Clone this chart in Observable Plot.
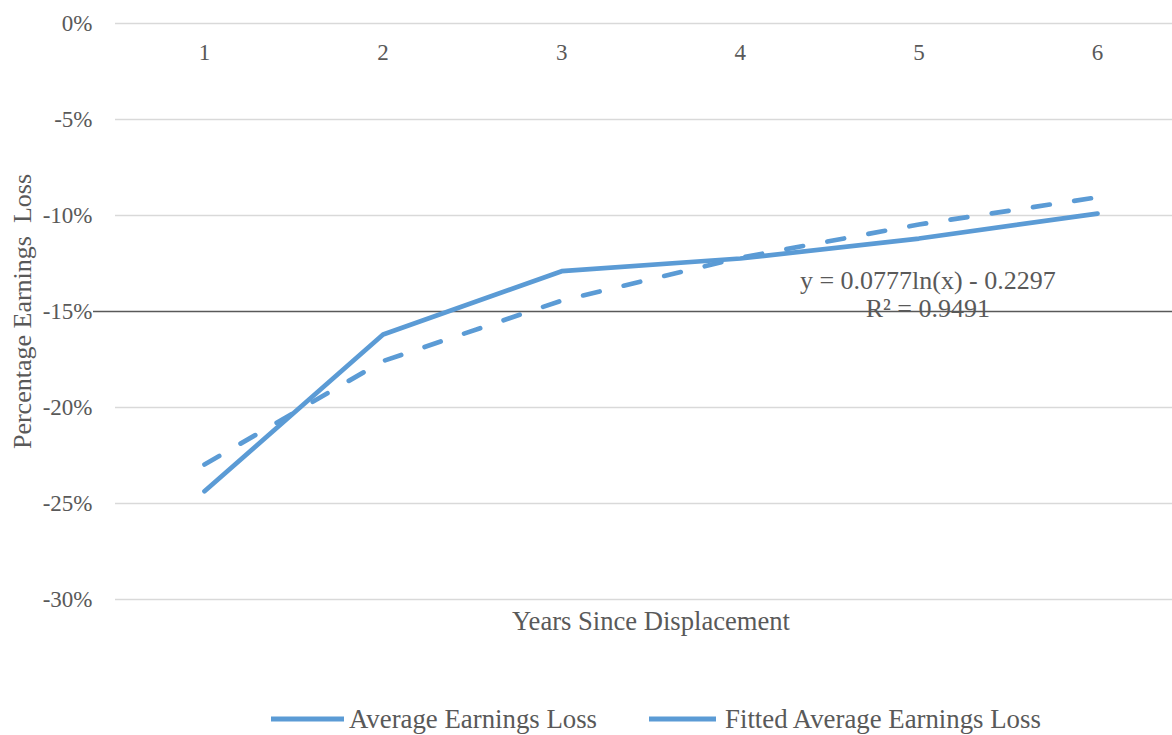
<!DOCTYPE html>
<html>
<head>
<meta charset="utf-8">
<script src="https://cdn.jsdelivr.net/npm/d3@7"></script>
<script src="https://cdn.jsdelivr.net/npm/@observablehq/plot@0.6"></script>
<style>
  body { margin: 0; background: #fff; font-family: "Liberation Serif", "Times New Roman", serif; color: #595959; overflow: hidden; }
  #legend { display: flex; align-items: center; height: 38px; padding-left: 271px; font-size: 26.8px; white-space: nowrap; }
  #legend .item { display: flex; align-items: center; }
  #legend svg { display: block; }
</style>
</head>
<body>
<div id="chart"></div>
<div id="legend"></div>
<script>
// ---- data ----
const years = [1, 2, 3, 4, 5, 6];
const averageLoss = [-0.2436, -0.162, -0.129, -0.1224, -0.112, -0.099];
const fittedLoss = [-0.2297, -0.1758, -0.1443, -0.1220, -0.1047, -0.0905];
const yTicks = [0, -0.05, -0.10, -0.15, -0.20, -0.25, -0.30];
const seriesNames = ["Average Earnings Loss", "Fitted Average Earnings Loss"];
const trendLabel = "y = 0.0777ln(x) - 0.2297\nR\u00b2 = 0.9491";
const trendLabelAt = { x: 5.05, y: -0.141 };
const xTitle = "Years Since Displacement";
const yTitle = "Percentage Earnings  Loss";
const axisCross = -0.15;
const lineColor = "#5B9BD5";

const avgData = years.map((x, i) => ({ x, y: averageLoss[i] }));
const fitData = years.map((x, i) => ({ x, y: fittedLoss[i] }));

const chart = Plot.plot({
  width: 1172,
  height: 700,
  marginLeft: 115,
  marginRight: 0,
  marginTop: 23,
  marginBottom: 101,
  style: { fontFamily: '"Liberation Serif", "Times New Roman", serif', color: "#595959", background: "#fff", overflow: "visible" },
  x: { domain: [0.5, 6.5], range: [114.7, 1186.3], axis: null },
  y: { domain: [-0.30, 0], axis: null },
  marks: [
    Plot.ruleY(yTicks.filter(v => v !== axisCross), { stroke: "#d9d9d9", strokeWidth: 1.5 }),
    Plot.ruleY([axisCross], { stroke: "#595959", strokeWidth: 1.5, insetLeft: -22 }),
    Plot.axisY(yTicks, { tickSize: 0, tickPadding: 23, tickFormat: d => `${Math.round(d * 100)}%`, fontSize: 23, label: null }),
    Plot.text(years, { x: d => d, text: d => String(d), frameAnchor: "top", lineAnchor: "middle", dy: 29, fontSize: 23 }),
    Plot.line(fitData, { x: "x", y: "y", stroke: lineColor, strokeWidth: 4.7, strokeDasharray: "17,24.7", strokeLinecap: "round", strokeLinejoin: "round" }),
    Plot.line(avgData, { x: "x", y: "y", stroke: lineColor, strokeWidth: 4.7, strokeLinecap: "round", strokeLinejoin: "round" }),
    Plot.text([trendLabelAt], { x: "x", y: "y", text: () => trendLabel, fontSize: 26, lineHeight: 1.05 }),
    Plot.text([yTitle], { frameAnchor: "left", textAnchor: "middle", rotate: -90, dx: -93, fontSize: 26 }),
    Plot.text([xTitle], { frameAnchor: "bottom", lineAnchor: "middle", dy: 22, dx: 7, fontSize: 26.6 })
  ]
});
document.getElementById("chart").appendChild(chart);

// ---- legend ----
const legend = d3.select("#legend");
const sampleWidths = [73, 67];
const textGaps = [5, 9];
seriesNames.forEach((name, i) => {
  const item = legend.append("div").attr("class", "item").style("margin-left", i === 0 ? "0px" : "52px");
  const s = item.append("svg").attr("width", sampleWidths[i]).attr("height", 10);
  s.append("line").attr("x1", 0).attr("x2", sampleWidths[i]).attr("y1", 5).attr("y2", 5)
    .attr("stroke", lineColor).attr("stroke-width", 5);
  item.append("span").style("margin-left", textGaps[i] + "px").text(name);
});
</script>
</body>
</html>
